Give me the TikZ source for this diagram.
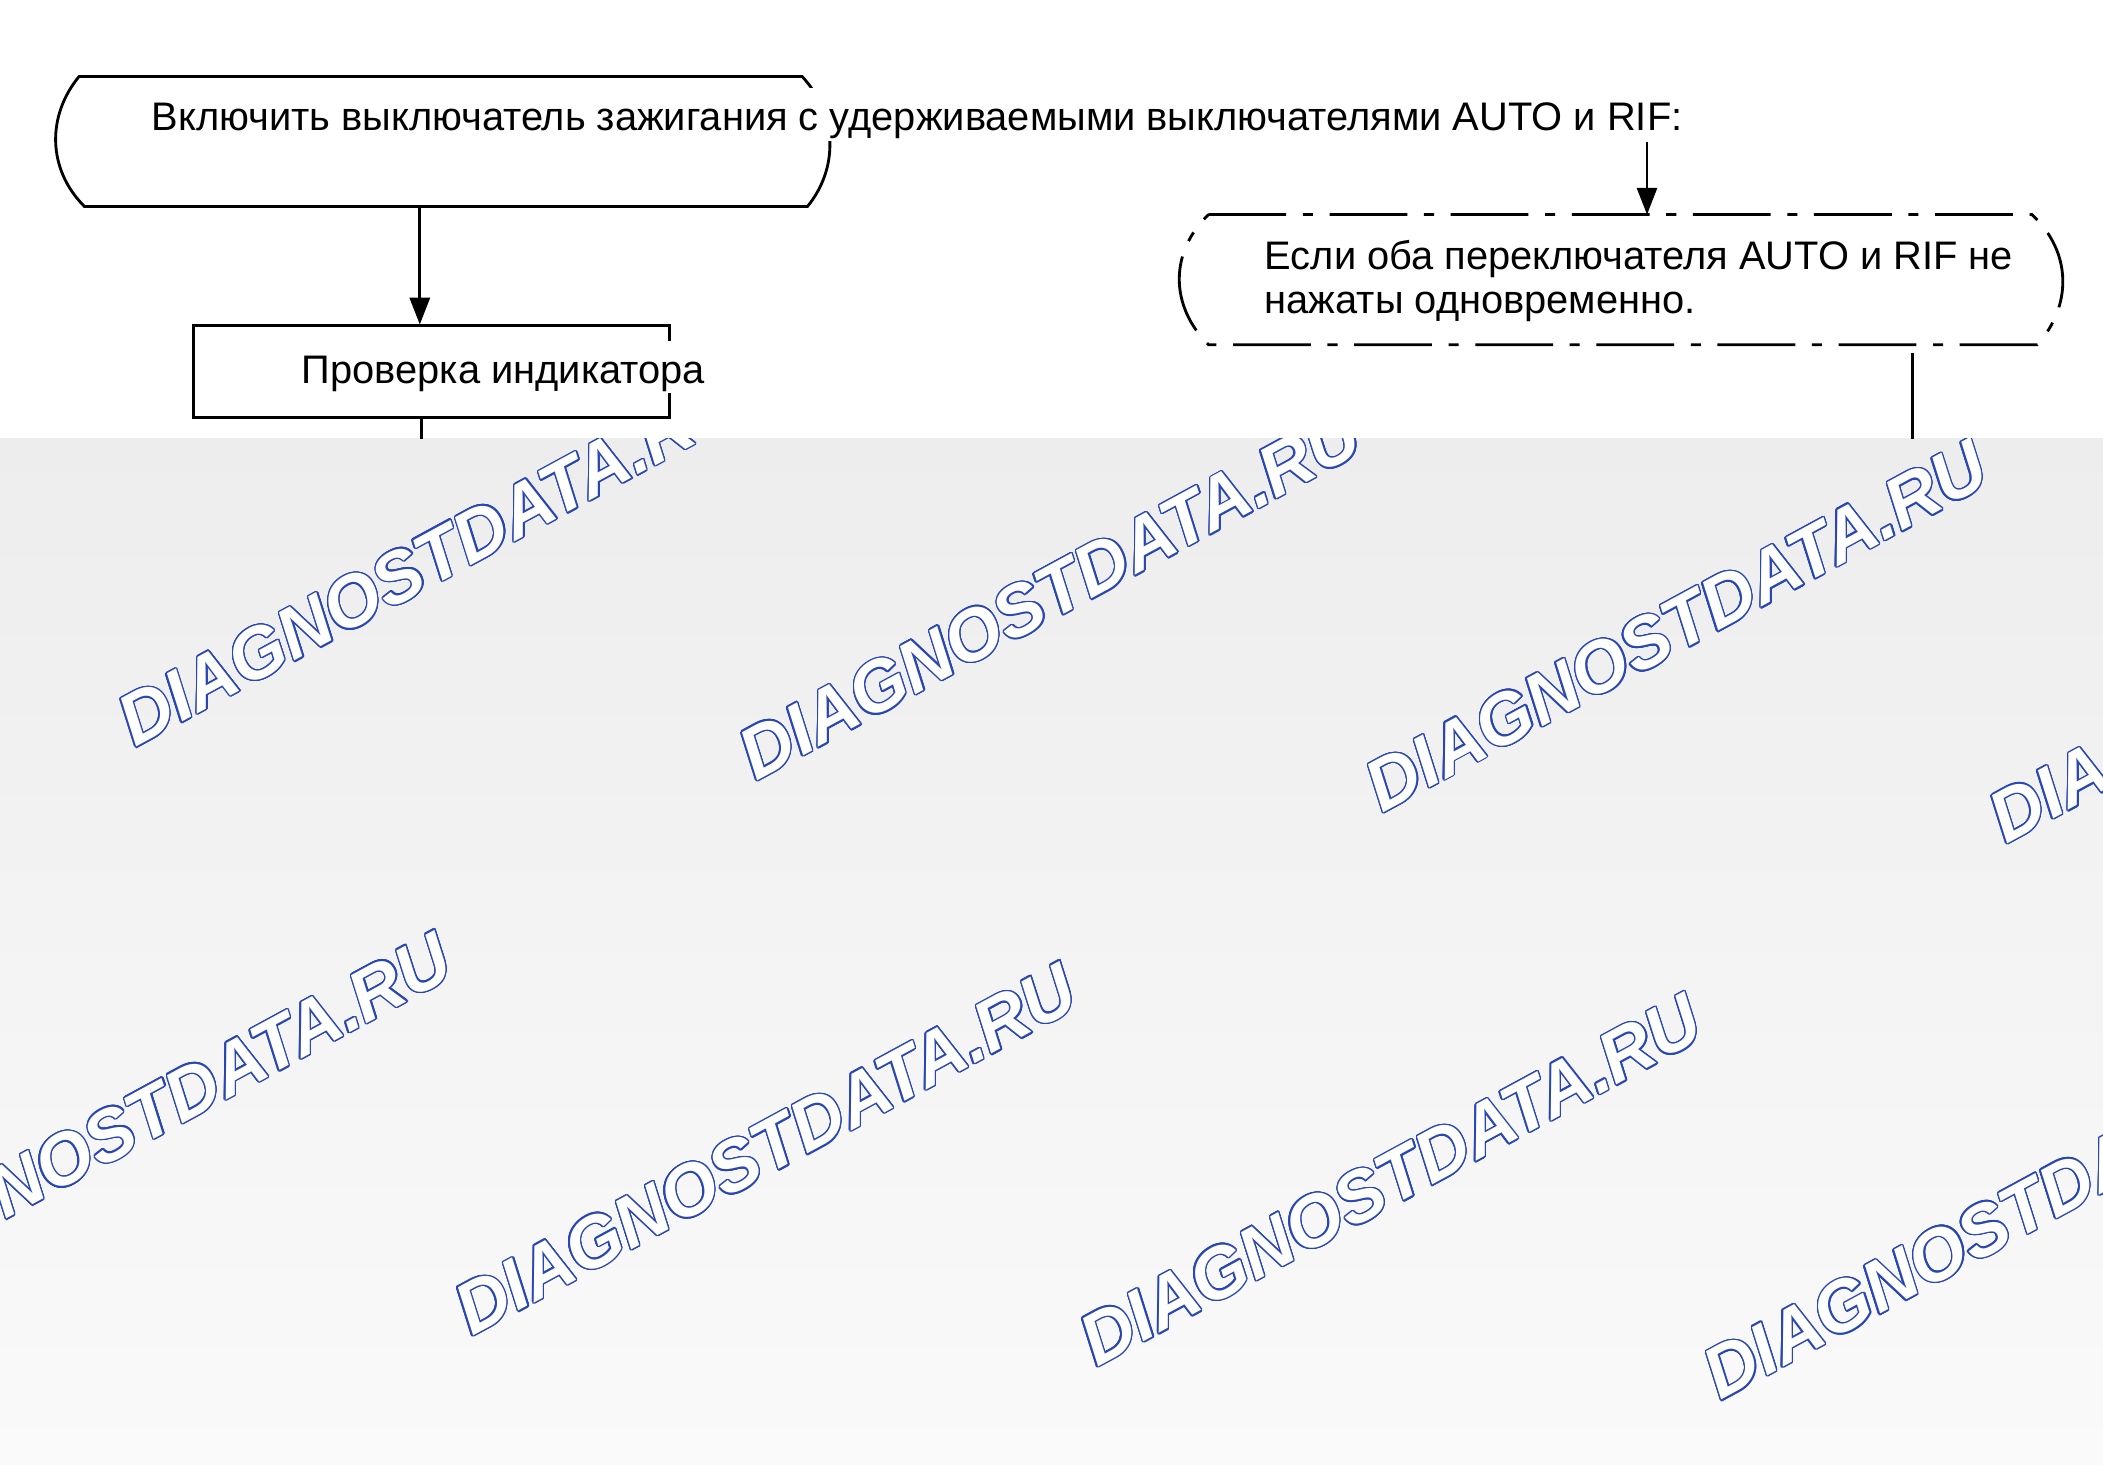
\documentclass[tikz,border=0pt]{standalone}
\usepackage{fontspec}
\setmainfont{Liberation Sans}
\usepackage{contour}
\usetikzlibrary{arrows.meta}
\contourlength{0.3pt}
\contournumber{20}
\definecolor{wmblue}{RGB}{40,70,180}

\begin{document}
\begin{tikzpicture}[x=1cm,y=-1cm,line width=0.6pt,
    txt/.style={font=\fontsize{8.45pt}{9.3pt}\selectfont,inner sep=0pt,anchor=base west},
    wm/.style={font=\fontsize{15.3pt}{15.3pt}\selectfont\bfseries\itshape,inner sep=0pt,anchor=base west,rotate=28.5},
    dashdot/.style={dash pattern=on 0.58cm off 0.124cm on 0.075cm off 0.124cm},
    >={Triangle[length=0.2cm,width=0.15cm]}]
  \useasboundingbox (0,0) rectangle (15.68,10.92);
  \shade[top color={rgb,255:red,237;green,237;blue,237},bottom color={rgb,255:red,250;green,250;blue,250}] (0,3.27) rectangle (15.68,10.92);
  \begin{scope}
    \clip (0,3.27) rectangle (15.68,10.92);
    \foreach \x/\y in {1.00/5.58,5.63/5.83,10.30/6.07,14.95/6.30,-1.15/9.74,3.51/9.97,8.17/10.20,12.82/10.45}
      \node[wm] at (\x,\y) {\color{white}\contour{wmblue}{DIAGNOSTDATA.RU}};
  \end{scope}
  \draw (0.59,0.57) -- (5.98,0.57) .. controls (6.25,0.86) and (6.25,1.26) .. (6.02,1.54)
    -- (0.63,1.54) .. controls (0.35,1.26) and (0.35,0.86) .. cycle;
  \node[txt,fill=white,text height=0.9em,text depth=0.21em] (atext) at (1.12,0.975)
    {Включить выключатель зажигания с удерживаемыми выключателями AUTO и RIF:};
  \node[draw,minimum width=3.55cm,minimum height=0.68cm,inner sep=0pt] (b) at (3.215,2.77) {};
  \node[txt,fill=white,text height=0.9em,text depth=0.21em] (btext) at (2.24,2.86) {Проверка индикатора};
  \draw[dashdot] (9.01,1.60) -- (15.15,1.60) .. controls (15.45,1.88) and (15.45,2.28) .. (15.19,2.57)
    -- (9.01,2.57) .. controls (8.72,2.28) and (8.72,1.88) .. cycle;
  \node[txt,align=left] (ctext) at (9.42,2.34) {Если оба переключателя AUTO и RIF не\\нажаты одновременно.};
  \coordinate (a) at (3.13,1.54);
  \coordinate (c) at (12.28,1.60);
  \coordinate (bo) at (3.14,3.27);
  \coordinate (co1) at (14.26,2.63);
  \coordinate (co2) at (14.26,3.27);
  \draw[->] (a) -- (a |- b.north);
  \draw (b.south -| bo) -- (bo);
  \draw[->] (c |- atext.south) -- (c);
  \draw (co1) -- (co2);
\end{tikzpicture}
\end{document}
